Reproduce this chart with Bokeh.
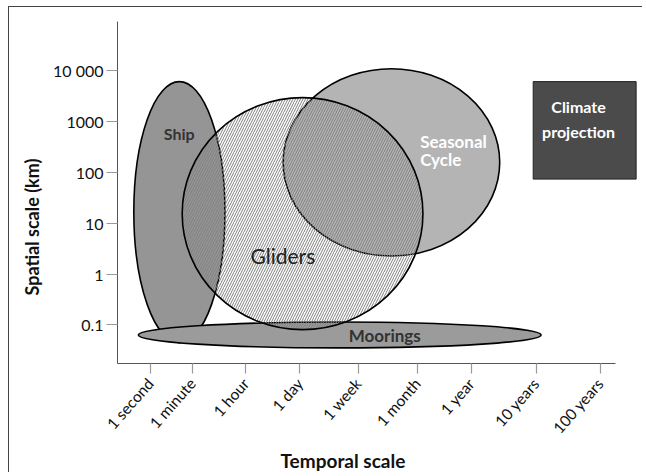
import math
from bokeh.plotting import figure
from bokeh.models import Range1d, FixedTicker, Title
from bokeh.embed import file_html
from bokeh.resources import INLINE
from bokeh.core.properties import value

# ---- data -------------------------------------------------------------
time_labels = ["1 second", "1 minute", "1 hour", "1 day", "1 week",
               "1 month", "1 year", "10 years", "100 years"]
time_pos = [0.0, 0.75, 1.70, 2.66, 3.70, 4.75, 5.71, 6.86, 8.0]

space_log = [-1, 0, 1, 2, 3, 4]                       # log10(km)
space_labels = ["0.1", "1", "10", "100", "1000", "10 000"]

# observing-system footprints: centre / extent (x: time axis units, y: log10 km)
ship_xy = (0.52, 1.22)
ship_wh = (1.62, 5.14)
moorings_xy = (3.37, -1.20)
moorings_wh = (7.16, 0.51)
seasonal_xy = (4.29, 2.20)
seasonal_wh = (3.85, 3.69)
gliders_xy = (2.71, 1.19)
gliders_wh = (4.28, 4.57)
climate_box = (6.81, 8.64, 1.87, 3.79)  # left, right, bottom, top

FONT = "Lato"

p = figure(width=634, height=466,
           x_range=Range1d(-0.58, 8.771), y_range=Range1d(-1.762, 5.25),
           output_backend="svg", toolbar_location=None,
           min_border_left=108, min_border_right=0,
           min_border_top=0, min_border_bottom=107)
p.styles = {"border-left": "1px solid #444", "border-top": "1px solid #444",
            "margin-left": "8px", "margin-top": "6px"}
p.outline_line_color = None
p.grid.visible = False
p.background_fill_color = "white"
p.border_fill_color = "white"

# axes
for ax in (p.xaxis[0], p.yaxis[0]):
    ax.axis_line_color = "#555555"
    ax.axis_line_width = 1
    ax.major_tick_line_color = "#9a9a9a"
    ax.major_tick_line_width = 1.2
    ax.major_tick_in = 0
    ax.minor_tick_line_color = None
    ax.major_label_text_font = FONT
    ax.major_label_text_color = "#111111"

p.xaxis.ticker = FixedTicker(ticks=time_pos)
p.xaxis.major_label_overrides = {t: l for t, l in zip(time_pos, time_labels)}
p.xaxis.major_label_orientation = 0.85
p.xaxis.major_label_text_font_size = "15.5px"
p.xaxis.major_tick_out = 10
p.xaxis.major_label_standoff = 7
p.xaxis.bounds = (-0.58, 8.28)

p.yaxis.ticker = FixedTicker(ticks=space_log)
p.yaxis.major_label_overrides = {t: l for t, l in zip(space_log, space_labels)}
p.yaxis.major_label_text_font_size = "16px"
p.yaxis.major_tick_out = 11
p.yaxis.major_label_standoff = 3
p.yaxis.bounds = (-1.762, 4.98)

# shapes
p.ellipse(x=[ship_xy[0]], y=[ship_xy[1]], width=[ship_wh[0]], height=[ship_wh[1]],
          fill_color="#959595", line_color="black", line_width=1.6)
p.ellipse(x=[moorings_xy[0]], y=[moorings_xy[1]], width=[moorings_wh[0]], height=[moorings_wh[1]],
          fill_color="#9b9b9b", line_color="black", line_width=1.6)
p.ellipse(x=[seasonal_xy[0]], y=[seasonal_xy[1]], width=[seasonal_wh[0]], height=[seasonal_wh[1]],
          fill_color="#b4b4b4", line_color="black", line_width=1.6)
p.ellipse(x=[gliders_xy[0]], y=[gliders_xy[1]], width=[gliders_wh[0]], height=[gliders_wh[1]],
          fill_alpha=0, hatch_pattern="/", hatch_color="#808080", hatch_scale=5,
          hatch_weight=1.0, line_color="black", line_width=1.6)
p.quad(left=[climate_box[0]], right=[climate_box[1]], bottom=[climate_box[2]], top=[climate_box[3]],
       fill_color="#4b4b4b", line_color="#222222", line_width=1)

# in-plot texts
def txt(x, y, s, size, color, bold=True, align="center"):
    p.text(x=[x], y=[y], text=[s], text_font=value(FONT), text_font_size=value(size),
           text_font_style="bold" if bold else "normal", text_color=color,
           text_align=align, text_baseline="middle")

txt(0.516, 2.77, "Ship", "16px", "#333333")
txt(2.36, 0.373, "Gliders", "21px", "#222222", bold=False)
txt(4.80, 2.619, "Seasonal", "17px", "white", align="left")
txt(4.80, 2.262, "Cycle", "17px", "white", align="left")
txt(4.172, -1.209, "Moorings", "17px", "#333333")
txt(7.616, 3.303, "Climate", "16px", "white")
txt(7.616, 2.814, "projection", "16px", "white")

# axis titles
p.add_layout(Title(text="Temporal scale", align="left", offset=163,
                   text_font=FONT, text_font_size="19px", text_font_style="bold",
                   text_color="#111111", standoff=3), "below")
p.add_layout(Title(text="Spatial scale (km)", align="left", offset=68,
                   text_font=FONT, text_font_size="18px", text_font_style="bold",
                   text_color="#111111", standoff=16), "left")

open("out.html", "w").write(file_html(p, INLINE))
